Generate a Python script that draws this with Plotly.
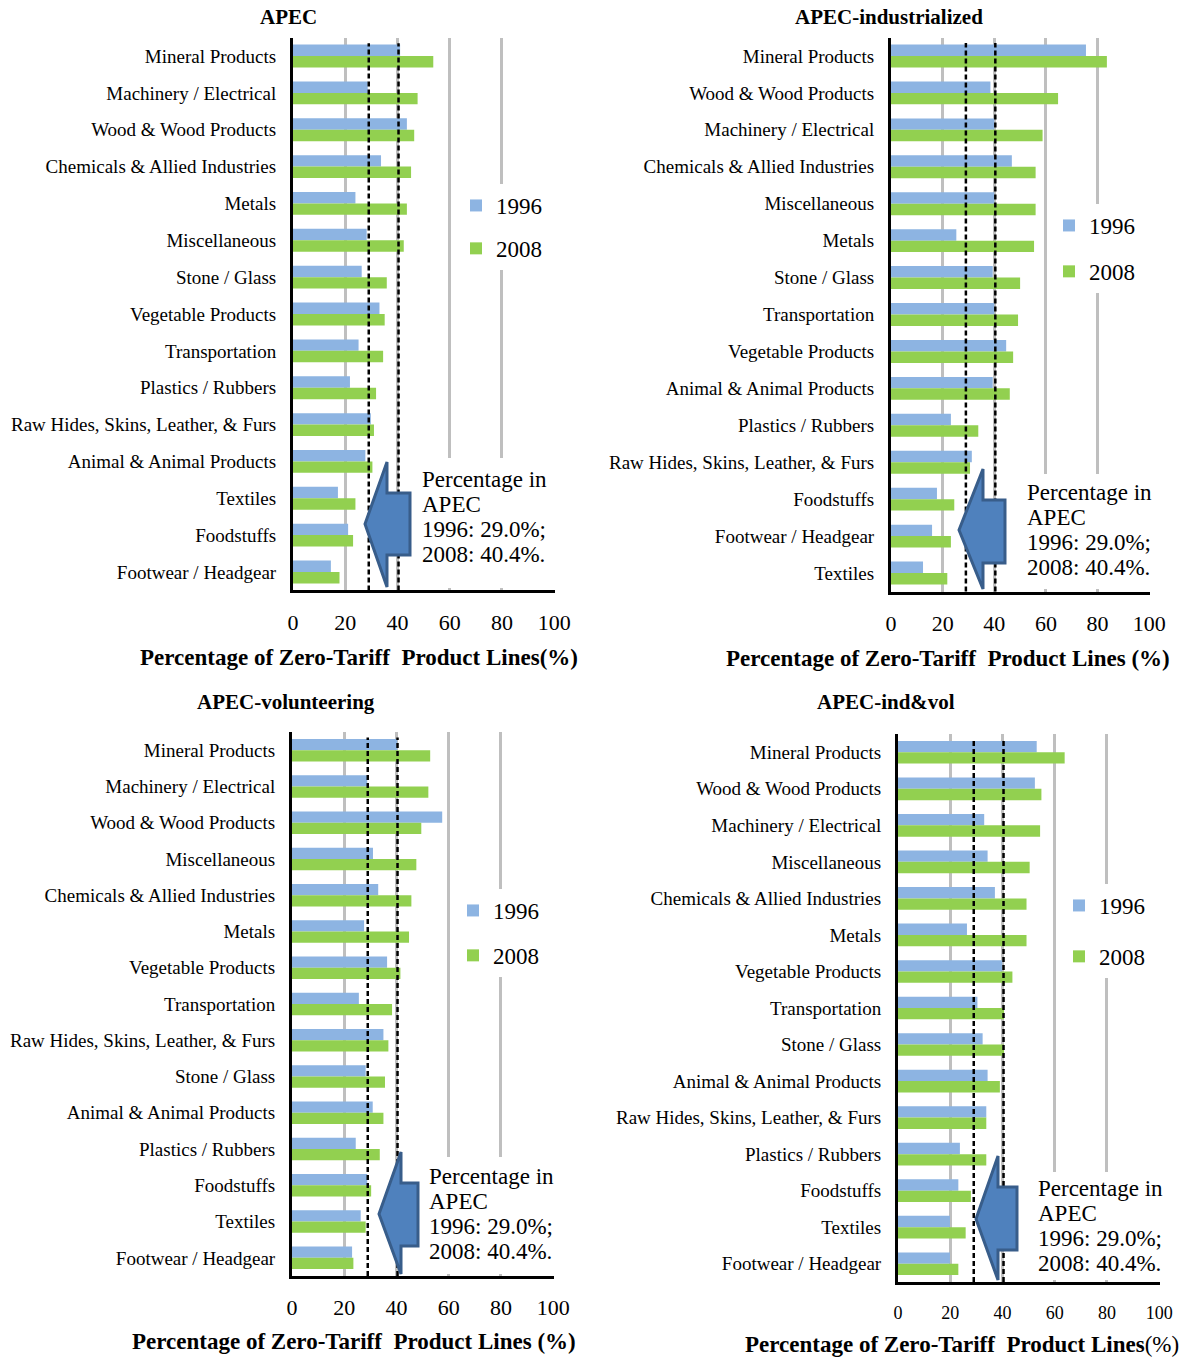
import plotly.graph_objects as go

# ---------------- data ----------------
APEC_SHARE_1996 = 29.0
APEC_SHARE_2008 = 40.4

apec_cats = ["Mineral Products", "Machinery / Electrical", "Wood & Wood Products",
             "Chemicals & Allied Industries", "Metals", "Miscellaneous", "Stone / Glass",
             "Vegetable Products", "Transportation", "Plastics / Rubbers",
             "Raw Hides, Skins, Leather, & Furs", "Animal & Animal Products", "Textiles",
             "Foodstuffs", "Footwear / Headgear"]
apec_1996 = [41.0, 28.6, 43.6, 33.7, 23.9, 28.2, 26.3, 33.1, 25.1, 21.8, 29.8, 27.7, 17.2, 21.1, 14.5]
apec_2008 = [53.7, 47.7, 46.4, 45.2, 43.6, 42.4, 35.9, 35.1, 34.5, 31.8, 31.0, 30.4, 23.9, 23.0, 17.8]

ind_cats = ["Mineral Products", "Wood & Wood Products", "Machinery / Electrical",
            "Chemicals & Allied Industries", "Miscellaneous", "Metals", "Stone / Glass",
            "Transportation", "Vegetable Products", "Animal & Animal Products",
            "Plastics / Rubbers", "Raw Hides, Skins, Leather, & Furs", "Foodstuffs",
            "Footwear / Headgear", "Textiles"]
ind_1996 = [75.5, 38.5, 40.0, 46.8, 40.0, 25.3, 39.4, 40.0, 44.6, 39.4, 23.2, 31.3, 17.8, 15.9, 12.4]
ind_2008 = [83.6, 64.7, 58.7, 56.0, 56.0, 55.4, 50.0, 49.2, 47.3, 46.0, 33.8, 30.6, 24.5, 23.2, 21.8]

vol_cats = ["Mineral Products", "Machinery / Electrical", "Wood & Wood Products",
            "Miscellaneous", "Chemicals & Allied Industries", "Metals", "Vegetable Products",
            "Transportation", "Raw Hides, Skins, Leather, & Furs", "Stone / Glass",
            "Animal & Animal Products", "Plastics / Rubbers", "Foodstuffs", "Textiles",
            "Footwear / Headgear"]
vol_1996 = [40.3, 28.8, 57.5, 31.0, 33.0, 27.6, 36.4, 25.6, 35.0, 28.2, 30.9, 24.4, 28.8, 26.3, 23.0]
vol_2008 = [52.9, 52.2, 49.5, 47.6, 45.7, 44.8, 41.5, 38.3, 36.9, 35.6, 35.0, 33.6, 30.3, 28.2, 23.5]

iv_cats = ["Mineral Products", "Wood & Wood Products", "Machinery / Electrical",
           "Miscellaneous", "Chemicals & Allied Industries", "Metals", "Vegetable Products",
           "Transportation", "Stone / Glass", "Animal & Animal Products",
           "Raw Hides, Skins, Leather, & Furs", "Plastics / Rubbers", "Foodstuffs",
           "Textiles", "Footwear / Headgear"]
iv_1996 = [53.1, 52.4, 33.0, 34.3, 37.1, 26.4, 39.9, 30.4, 32.4, 34.3, 33.8, 23.7, 23.1, 19.9, 19.9]
iv_2008 = [63.8, 54.9, 54.4, 50.4, 49.2, 49.2, 43.8, 40.6, 40.6, 39.0, 33.8, 33.8, 27.9, 25.9, 23.1]

x_ticks = [0, 20, 40, 60, 80, 100]
series_names = ["1996", "2008"]
note_lines = ["Percentage in", "APEC", "1996: 29.0%;", "2008: 40.4%."]

# ---------------- layout helpers ----------------
W, H = 1187, 1358
FONT = "Liberation Serif"
BLUE, GREEN = "#8DB4E2", "#92D050"
GRID = "#BFBFBF"


def px(x):
    return x / W


def py(y):
    return 1 - y / H


panels = [
    dict(title="APEC", cats=apec_cats, v96=apec_1996, v08=apec_2008,
         box=(293, 555, 37.6, 590.4), title_pos=(288, 17),
         xtitle="<b>Percentage of Zero-Tariff  Product Lines(%)</b>", xtitle_pos=(359, 657),
         xtitle_size=23, tickfont=22, ticklen=10,
         legend_pos=(456, 184), legend_gap=10,
         note_pos=(420, 479), white=(413, 566, 458, 588),
         arrow=(365, 524, 387, 462, 587, 410, 493, 555)),
    dict(title="APEC-industrialized", cats=ind_cats, v96=ind_1996, v08=ind_2008,
         box=(891, 1150, 37.5, 591.5), title_pos=(889, 17),
         xtitle="<b>Percentage of Zero-Tariff  Product Lines (%)</b>", xtitle_pos=(948, 658),
         xtitle_size=23, tickfont=22, ticklen=10,
         legend_pos=(1049, 204), legend_gap=13,
         note_pos=(1025, 492), white=(1010, 1165, 474, 589),
         arrow=(959, 530, 983, 469, 589, 1005, 500, 563)),
    dict(title="APEC-volunteering", cats=vol_cats, v96=vol_1996, v08=vol_2008,
         box=(292, 554, 732, 1276), title_pos=(286, 702),
         xtitle="<b>Percentage of Zero-Tariff  Product Lines (%)</b>", xtitle_pos=(354, 1341),
         xtitle_size=23, tickfont=22, ticklen=10,
         legend_pos=(453, 889), legend_gap=12,
         note_pos=(427, 1176), white=(421, 565, 1157, 1274),
         arrow=(379, 1214, 401, 1152, 1274, 418, 1183, 1246)),
    dict(title="APEC-ind&vol", cats=iv_cats, v96=iv_1996, v08=iv_2008,
         box=(898, 1160, 734, 1282), title_pos=(886, 702),
         xtitle="<b>Percentage of Zero-Tariff  Product Lines</b>(%)", xtitle_pos=(962, 1344),
         xtitle_size=23, tickfont=18, ticklen=12,
         legend_pos=(1059, 884), legend_gap=18,
         note_pos=(1036, 1188), white=(1020, 1170, 1172, 1280),
         arrow=(976, 1219, 998, 1156, 1280, 1017, 1187, 1250)),
]

fig = go.Figure()
layout = dict(
    width=W, height=H, margin=dict(l=0, r=0, t=0, b=0, autoexpand=False),
    paper_bgcolor="white", plot_bgcolor="white",
    barmode="group", bargap=0.38, bargroupgap=0.0,
    font=dict(family=FONT, color="black"),
)
shapes, annotations = [], []
LINE_STEP = 25.2

for i, p in enumerate(panels):
    n = "" if i == 0 else str(i + 1)
    xa, ya = "x" + n, "y" + n
    leg = "legend" + n
    x0, x1, yt, yb = p["box"]
    for name, vals, col in zip(series_names, [p["v96"], p["v08"]], [BLUE, GREEN]):
        fig.add_trace(go.Bar(
            y=p["cats"], x=vals, name=name, orientation="h",
            marker=dict(color=col, line=dict(width=0)),
            xaxis=xa, yaxis=ya, legend=leg, legendgroup=f"p{i}_{name}",
            hoverinfo="x+y",
        ))
    layout["xaxis" + n] = dict(
        domain=[px(x0), px(x1)], anchor=ya, range=[0, 100.3], automargin=False,
        tickvals=x_ticks, ticktext=[str(t) for t in x_ticks],
        tickfont=dict(family=FONT, size=p["tickfont"], color="black"),
        ticks="outside", ticklen=p["ticklen"], tickcolor="rgba(0,0,0,0)",
        showgrid=True, gridcolor=GRID, gridwidth=3,
        showline=True, linecolor="black", linewidth=3, zeroline=False,
    )
    layout["yaxis" + n] = dict(
        domain=[py(yb), py(yt)], anchor=xa, type="category", automargin=False,
        autorange="reversed", categoryorder="array", categoryarray=p["cats"],
        tickfont=dict(family=FONT, size=19, color="black"),
        ticks="outside", ticklen=10, tickcolor="rgba(0,0,0,0)",
        showgrid=False, showline=True, linecolor="black", linewidth=3, zeroline=False,
    )
    lx, ly = p["legend_pos"]
    layout[leg] = dict(
        x=px(lx), y=py(ly), xanchor="left", yanchor="top",
        bgcolor="white", borderwidth=0, tracegroupgap=p["legend_gap"],
        font=dict(family=FONT, size=23, color="black"), itemwidth=30,
    )
    # white box behind the note (hides grid lines)
    wx0, wx1, wy0, wy1 = p["white"]
    shapes.append(dict(type="rect", xref="paper", yref="paper",
                       x0=px(wx0), x1=px(wx1), y0=py(wy1), y1=py(wy0),
                       fillcolor="white", line=dict(width=0), layer="above"))
    # APEC average reference lines
    for v in (APEC_SHARE_1996, APEC_SHARE_2008):
        shapes.append(dict(type="line", xref=xa, yref=ya + " domain",
                           x0=v, x1=v, y0=0, y1=0.99,
                           line=dict(color="black", width=2.5, dash="5px,3px"),
                           layer="above"))
    # block arrow
    ax, ay, hx, ht, hb, sx, st, sb = p["arrow"]
    pts = [(ax, ay), (hx, ht), (hx, st), (sx, st), (sx, sb), (hx, sb), (hx, hb)]
    path = "M " + " L ".join(f"{px(a):.5f},{py(b):.5f}" for a, b in pts) + " Z"
    shapes.append(dict(type="path", xref="paper", yref="paper", path=path,
                       fillcolor="#4F81BD", line=dict(color="#385D8A", width=3),
                       layer="above"))
    # note text, one line at a time
    nx, ny = p["note_pos"]
    for k, line in enumerate(note_lines):
        annotations.append(dict(text=line, xref="paper", yref="paper",
                                x=px(nx), y=py(ny + k * LINE_STEP),
                                xanchor="left", yanchor="middle",
                                align="left", showarrow=False,
                                font=dict(family=FONT, size=23, color="black")))
    # panel title
    tx, ty = p["title_pos"]
    annotations.append(dict(text="<b>" + p["title"] + "</b>", xref="paper", yref="paper",
                            x=px(tx), y=py(ty), xanchor="center", yanchor="middle",
                            showarrow=False, font=dict(family=FONT, size=21, color="black")))
    # x axis title
    tx, ty = p["xtitle_pos"]
    annotations.append(dict(text=p["xtitle"], xref="paper", yref="paper",
                            x=px(tx), y=py(ty), xanchor="center", yanchor="middle",
                            showarrow=False,
                            font=dict(family=FONT, size=p["xtitle_size"], color="black")))

layout["shapes"] = shapes
layout["annotations"] = annotations
fig.update_layout(**layout)

fig.write_html("out.html", config={"displayModeBar": False},
               post_script="document.body.style.margin='0';document.body.style.overflow='hidden';")
